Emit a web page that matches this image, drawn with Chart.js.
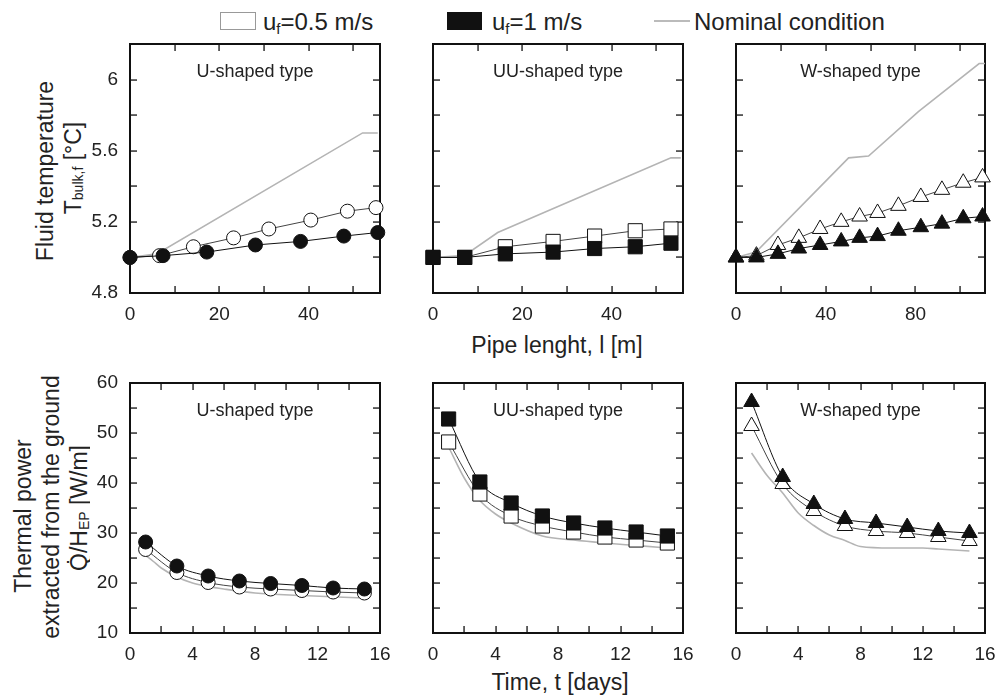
<!DOCTYPE html>
<html>
<head>
<meta charset="utf-8">
<script src="https://cdn.jsdelivr.net/npm/chart.js@4.4.1/dist/chart.umd.min.js"></script>
<style>
  html, body { margin: 0; padding: 0; background: #fff; overflow: hidden; }
  #wrap { position: relative; width: 996px; height: 697px; overflow: hidden; background: #fff;
          font-family: 'Liberation Sans', Arial, sans-serif; color: #222; }
  canvas { position: absolute; }
  .lbl { position: absolute; white-space: nowrap; line-height: 1; }
  .ctr { text-align: center; width: 300px; }
  sub { font-size: 62%; vertical-align: -0.25em; line-height: 0; }
</style>
</head>
<body>
<div id="wrap">
  <!-- legend -->
  <div style="position:absolute;left:220px;top:12px;width:34px;height:16px;border:1px solid #999;"></div>
  <div class="lbl" style="left:263px;top:10px;font-size:24px;">u<sub>f</sub>=0.5 m/s</div>
  <div style="position:absolute;left:447px;top:12px;width:35px;height:18px;background:#111;"></div>
  <div class="lbl" style="left:492px;top:10px;font-size:24px;">u<sub>f</sub>=1 m/s</div>
  <div style="position:absolute;left:654px;top:20px;width:36px;height:2px;background:#bbb;"></div>
  <div class="lbl" style="left:694px;top:10px;font-size:24px;">Nominal condition</div>

  <!-- y axis titles (rotated inside svg, no css transforms) -->
  <svg width="90" height="697" style="position:absolute;left:0;top:0;"
       font-family="'Liberation Sans', Arial, sans-serif" fill="#222">
    <text transform="translate(45,171) rotate(-90)" text-anchor="middle" dominant-baseline="central" font-size="23">Fluid temperature</text>
    <text transform="translate(73,168) rotate(-90)" text-anchor="middle" dominant-baseline="central" font-size="23">T<tspan font-size="14" dy="5">bulk,f</tspan><tspan dy="-5"> [°C]</tspan></text>
    <text transform="translate(23,516) rotate(-90)" text-anchor="middle" dominant-baseline="central" font-size="23">Thermal power</text>
    <text transform="translate(51,507) rotate(-90)" text-anchor="middle" dominant-baseline="central" font-size="23">extracted from the ground</text>
    <text transform="translate(79,508) rotate(-90)" text-anchor="middle" dominant-baseline="central" font-size="23">Q̇/H<tspan font-size="14" dy="5">EP</tspan><tspan dy="-5"> [W/m]</tspan></text>
  </svg>
  <div class="lbl ctr" style="left:407px;top:334px;font-size:23px;">Pipe lenght, l [m]</div>
  <div class="lbl ctr" style="left:410px;top:671px;font-size:23px;">Time, t [days]</div>

  <canvas id="c1" width="303" height="297" style="left:90px;top:30px;"></canvas>
  <canvas id="c2" width="303" height="297" style="left:393px;top:30px;"></canvas>
  <canvas id="c3" width="300" height="297" style="left:696px;top:30px;"></canvas>
  <canvas id="c4" width="303" height="298" style="left:90px;top:369px;"></canvas>
  <canvas id="c5" width="303" height="298" style="left:393px;top:369px;"></canvas>
  <canvas id="c6" width="300" height="298" style="left:696px;top:369px;"></canvas>
</div>
<script>
// ---- top row: fluid temperature vs pipe length ----
var uLen05 = [0, 6.6, 14.2, 23.2, 31.1, 40.5, 48.7, 55.1];
var uT05   = [5.0, 5.01, 5.06, 5.11, 5.16, 5.21, 5.26, 5.28];
var uLen1  = [0, 7.4, 17.2, 28.1, 38.2, 47.9, 55.5];
var uT1    = [5.0, 5.01, 5.03, 5.07, 5.09, 5.12, 5.14];
var uNomLen = [0, 6, 52.1, 55.5];
var uNomT   = [5.0, 5.02, 5.70, 5.70];

var uuLen   = [0, 7.1, 16.2, 26.9, 36.2, 45.3, 53.3];
var uuT05   = [5.0, 5.0, 5.06, 5.09, 5.12, 5.15, 5.16];
var uuT1    = [5.0, 5.0, 5.02, 5.03, 5.05, 5.06, 5.08];
var uuNomLen = [0, 7, 14.5, 53.3, 55.5];
var uuNomT   = [5.0, 5.01, 5.14, 5.56, 5.56];

var wLen   = [0, 9.1, 18.7, 28, 37.5, 46.9, 55.1, 63.1, 72.4, 82.4, 91.8, 101.3, 109.9];
var wT05   = [5.0, 5.01, 5.07, 5.11, 5.16, 5.20, 5.23, 5.25, 5.29, 5.34, 5.38, 5.42, 5.45];
var wT1    = [5.0, 5.0, 5.02, 5.05, 5.07, 5.09, 5.11, 5.12, 5.15, 5.17, 5.19, 5.22, 5.23];
var wNomLen = [0, 8.9, 50.2, 59.1, 81.3, 108.4, 111];
var wNomT   = [5.0, 5.03, 5.56, 5.57, 5.82, 6.09, 6.09];

// ---- bottom row: thermal power vs time ----
var days = [1, 3, 5, 7, 9, 11, 13, 15];
var uQ1  = [28.2, 23.4, 21.4, 20.4, 19.9, 19.5, 19.0, 18.8];
var uQ05 = [26.7, 22.1, 20.1, 19.2, 18.8, 18.5, 18.2, 18.0];
var uNomDays = [1, 1.5, 2, 3, 4, 5, 6, 8, 11, 15];
var uNomQ    = [25.5, 24.3, 23.0, 21.2, 20.0, 19.3, 18.8, 18.0, 17.5, 17.0];

var uuQ1  = [52.8, 40.2, 36.0, 33.4, 32.0, 31.0, 30.2, 29.4];
var uuQ05 = [48.2, 37.8, 33.4, 31.4, 30.2, 29.2, 28.6, 28.0];
var uuNomDays = [1, 2, 3, 4, 5, 7, 9, 11, 13, 15];
var uuNomQ    = [47.2, 41.0, 36.5, 33.8, 32.0, 29.4, 28.6, 28.0, 27.5, 27.0];

var wQ1  = [56.2, 41.2, 35.8, 32.8, 32.0, 31.2, 30.4, 30.0];
var wQ05 = [51.4, 39.8, 34.4, 31.4, 30.4, 30.0, 29.2, 28.4];
var wNomDays = [1, 2, 3, 4, 5, 6, 7, 8, 10, 12, 13, 15];
var wNomQ    = [46.0, 41.5, 38.0, 34.0, 31.5, 29.6, 28.5, 27.3, 27.0, 27.0, 26.8, 26.4];

Chart.defaults.font.family = "'Liberation Sans', Arial, sans-serif";
Chart.defaults.color = '#222';

function pts(xs, ys) {
  return xs.map(function (v, i) { return { x: v, y: ys[i] }; });
}

// box + inward ticks on all four sides + panel title, drawn under the marks
var framePlugin = {
  id: 'frame',
  beforeDatasetsDraw: function (chart, args, opts) {
    var ctx = chart.ctx, x = chart.scales.x, y = chart.scales.y;
    var L = x.left, R = x.right, T = y.top, B = y.bottom;
    ctx.save();
    ctx.fillStyle = '#111';
    var n, i, p;
    n = Math.round((x.max - x.min) / opts.xStep);
    for (i = 1; i < n; i++) {
      p = Math.round(x.getPixelForValue(x.min + i * opts.xStep));
      if (p >= R - 2) continue;
      ctx.fillRect(p - 0.6, B - 7, 1.3, 7);
      ctx.fillRect(p - 0.6, T, 1.3, 7);
    }
    n = Math.round((y.max - y.min) / opts.yStep);
    for (i = 1; i < n; i++) {
      p = Math.round(y.getPixelForValue(y.min + i * opts.yStep));
      if (p <= T + 2) continue;
      ctx.fillRect(L, p - 0.6, 7, 1.3);
      ctx.fillRect(R - 7, p - 0.6, 7, 1.3);
    }
    ctx.fillRect(L - 1, T - 1, R - L + 2, 2);
    ctx.fillRect(L - 1, B - 1, R - L + 2, 2);
    ctx.fillRect(L - 1, T - 1, 2, B - T + 2);
    ctx.fillRect(R - 1, T - 1, 2, B - T + 2);
    ctx.fillStyle = '#222';
    ctx.font = "18px 'Liberation Sans', Arial, sans-serif";
    ctx.textAlign = 'center';
    ctx.textBaseline = 'middle';
    ctx.fillText(opts.title, (L + R) / 2, T + 28);
    ctx.restore();
  }
};

function series(data, style, smooth) {
  var open = style.open;
  return {
    data: data,
    showLine: true,
    clip: false,
    borderColor: open ? '#444' : '#111',
    borderWidth: 1,
    tension: 0,
    cubicInterpolationMode: smooth ? 'monotone' : 'default',
    pointStyle: style.shape,
    pointRadius: style.r,
    pointHoverRadius: style.r,
    pointBorderWidth: 1,
    pointBorderColor: '#111',
    pointBackgroundColor: open ? '#fff' : '#111'
  };
}

function nominal(data, smooth) {
  return {
    data: data,
    showLine: true,
    clip: false,
    borderColor: '#b4b4b4',
    borderWidth: 1.6,
    tension: 0,
    cubicInterpolationMode: smooth ? 'monotone' : 'default',
    pointRadius: 0,
    pointHoverRadius: 0
  };
}

function tickText(v) {
  return String(Math.round(v * 10) / 10);
}

function panel(id, datasets, cfg) {
  var canvas = document.getElementById(id);
  // plain (non-accelerated) 2d context; Chart.js picks up the same context
  canvas.getContext('2d', { willReadFrequently: true });
  new Chart(canvas, {
    type: 'scatter',
    data: { datasets: datasets },
    options: {
      responsive: false,
      animation: false,
      events: [],
      layout: { padding: { top: 14, right: cfg.padRight, left: 0, bottom: 0 } },
      plugins: {
        legend: { display: false },
        tooltip: { enabled: false },
        frame: { title: cfg.title, xStep: cfg.xMinor, yStep: cfg.yMinor }
      },
      scales: {
        x: {
          type: 'linear', min: cfg.xMin, max: cfg.xMax,
          grid: { display: false, drawTicks: false },
          border: { display: false },
          ticks: { stepSize: cfg.xStep, includeBounds: false, maxRotation: 0, autoSkip: false,
                   padding: 10, font: { size: 19 }, color: '#222', callback: tickText },
          afterFit: function (s) { s.height = 34; s.paddingLeft = 0; s.paddingRight = 0; }
        },
        y: {
          type: 'linear', min: cfg.yMin, max: cfg.yMax,
          grid: { display: false, drawTicks: false },
          border: { display: false },
          ticks: { display: cfg.yLabels, stepSize: cfg.yStep, includeBounds: false,
                   padding: 12, font: { size: 19 }, color: '#222', callback: tickText },
          afterFit: function (s) { s.width = 40; s.paddingTop = 0; s.paddingBottom = 0; }
        }
      }
    },
    plugins: [framePlugin]
  });
  // read one pixel back so the canvas stays on the software path
  canvas.getContext('2d').getImageData(0, 0, 1, 1);
}

var circ = { shape: 'circle', r: 7 };
var circO = { shape: 'circle', r: 7, open: true };
var sq = { shape: 'rect', r: 10 };
var sqO = { shape: 'rect', r: 10, open: true };
var tri = { shape: 'triangle', r: 9 };
var triO = { shape: 'triangle', r: 9, open: true };

var topY = { yMin: 4.8, yMax: 6.2, yStep: 0.4, yMinor: 0.2 };
var botY = { yMin: 10, yMax: 60, yStep: 10, yMinor: 5 };

function cfg(base, extra) {
  var o = {}, k;
  for (k in base) o[k] = base[k];
  for (k in extra) o[k] = extra[k];
  return o;
}

panel('c1', [
  series(pts(uLen1, uT1), circ, false),
  series(pts(uLen05, uT05), circO, false),
  nominal(pts(uNomLen, uNomT), false)
], cfg(topY, { title: 'U-shaped type', xMin: 0, xMax: 56, xStep: 20, xMinor: 10, yLabels: true, padRight: 13 }));

panel('c2', [
  series(pts(uuLen, uuT1), sq, false),
  series(pts(uuLen, uuT05), sqO, false),
  nominal(pts(uuNomLen, uuNomT), false)
], cfg(topY, { title: 'UU-shaped type', xMin: 0, xMax: 56, xStep: 20, xMinor: 10, yLabels: false, padRight: 13 }));

panel('c3', [
  series(pts(wLen, wT1), tri, false),
  series(pts(wLen, wT05), triO, false),
  nominal(pts(wNomLen, wNomT), false)
], cfg(topY, { title: 'W-shaped type', xMin: 0, xMax: 111, xStep: 40, xMinor: 20, yLabels: false, padRight: 11 }));

panel('c4', [
  series(pts(days, uQ1), circ, true),
  series(pts(days, uQ05), circO, true),
  nominal(pts(uNomDays, uNomQ), true)
], cfg(botY, { title: 'U-shaped type', xMin: 0, xMax: 16, xStep: 4, xMinor: 2, yLabels: true, padRight: 13 }));

panel('c5', [
  series(pts(days, uuQ1), sq, true),
  series(pts(days, uuQ05), sqO, true),
  nominal(pts(uuNomDays, uuNomQ), true)
], cfg(botY, { title: 'UU-shaped type', xMin: 0, xMax: 16, xStep: 4, xMinor: 2, yLabels: false, padRight: 13 }));

panel('c6', [
  series(pts(days, wQ1), tri, true),
  series(pts(days, wQ05), triO, true),
  nominal(pts(wNomDays, wNomQ), true)
], cfg(botY, { title: 'W-shaped type', xMin: 0, xMax: 16, xStep: 4, xMinor: 2, yLabels: false, padRight: 11 }));
</script>
</body>
</html>
